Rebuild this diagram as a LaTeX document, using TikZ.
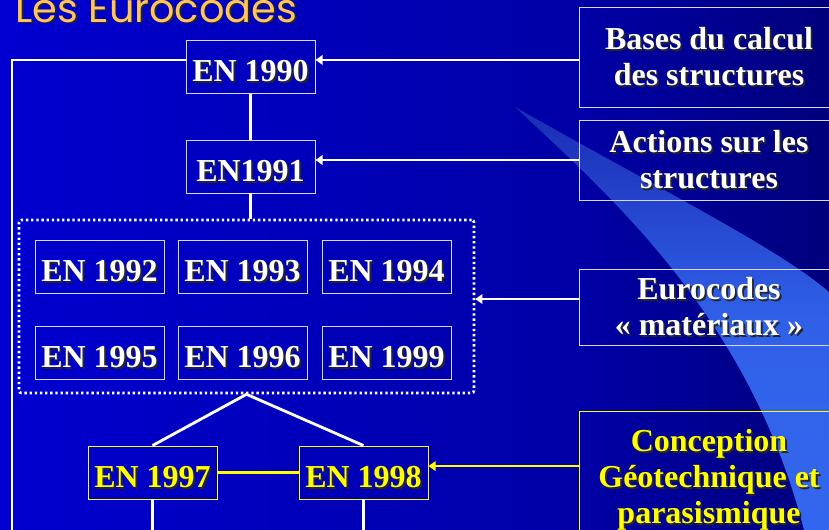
\documentclass[tikz,border=0pt]{standalone}
\usepackage{fontspec}
\setmainfont{Liberation Serif}
\newfontfamily\titlefont{Poppins}
\usepackage{tikz}
\usetikzlibrary{arrows.meta,positioning,calc,fit}
\definecolor{bgleft}{HTML}{0000EE}
\definecolor{bgmid}{HTML}{0000A6}
\definecolor{bgright}{HTML}{000036}
\definecolor{swlight}{HTML}{3366EE}
\definecolor{swdark}{HTML}{1A2CB4}
\definecolor{rim}{HTML}{D8D8FF}
\definecolor{enyellow}{HTML}{FFFF00}
\definecolor{titleorange}{HTML}{FFC55C}
\pgfdeclarehorizontalshading{slidebg}{100bp}{color(0bp)=(bgleft); color(60bp)=(bgmid); color(100bp)=(bgright)}
\tikzset{
    enfont/.style={font=\fontsize{27.3}{30.7}\selectfont\bfseries},
    boxbase/.style={draw=rim,line width=0.8pt,minimum width=3.87cm,minimum height=1.59cm,
      inner sep=0pt,enfont,text=white,align=center},
    enbox/.style={boxbase,text height=25pt,text depth=0pt},
    ybox/.style={enbox,draw=enyellow,text=enyellow},
    sidebox/.style={boxbase,minimum width=7.8cm},
    grpbox/.style={draw=white,line width=2.2pt,dash pattern=on 2pt off 2.4pt,
      rounded corners=2pt,inner sep=0pt},
    link/.style={draw=white,line width=2.4pt},
    ylink/.style={link,draw=enyellow},
    feed/.style={link,-{Triangle[length=6pt,width=8pt]}},
    titletxt/.style={anchor=base west,inner sep=0pt,text=titleorange,
      font=\titlefont\fontsize{34}{38}\selectfont}
}
% text with a dark drop shadow
\newcommand\shadowed[4]{%
  \node[#1,draw=none,text=black!85,xshift=1.6pt,yshift=-1.6pt] at (#3) {#4};
  \node[#1] (#2) at (#3) {#4};}

\begin{document}
\begin{tikzpicture}[x=0.03cm,y=-0.03cm]
  \useasboundingbox (0,0) rectangle (829,530);
  \clip (0,0) rectangle (829,530);
  \shade[shading=slidebg] (0,0) rectangle (829,530);
  % light swoosh
  \shade[top color=swdark,bottom color=swlight,middle color=swlight!90!swdark]
    (515,107) .. controls (615,200) and (750,320) .. (804,530) -- (829,530) -- (829,292)
    .. controls (780,250) and (680,200) .. (515,107) -- cycle;

  \shadowed{titletxt}{title}{15,22}{Les Eurocodes}

  % standards
  \shadowed{enbox}{e90}{250.5,67}{EN 1990}
  \shadowed{enbox}{e91}{250.5,166.5}{EN1991}
  \shadowed{enbox}{e92}{99.5,266.5}{EN 1992}
  \shadowed{enbox}{e93}{242.5,266.5}{EN 1993}
  \shadowed{enbox}{e94}{386.5,266.5}{EN 1994}
  \shadowed{enbox}{e95}{99.5,352.5}{EN 1995}
  \shadowed{enbox}{e96}{242.5,352.5}{EN 1996}
  \shadowed{enbox}{e99}{386.5,352.5}{EN 1999}
  \shadowed{ybox}{e97}{152.5,472.5}{EN 1997}
  \shadowed{ybox}{e98}{363.5,472.5}{EN 1998}
  \coordinate (gtl) at (19,220);
  \coordinate (gbr) at (474,393);
  \node[grpbox,fit=(gtl)(gbr)] (grp) {};

  % themes
  \shadowed{sidebox,minimum height=3cm}{bases}{709,57}{Bases du calcul\\des structures}
  \shadowed{sidebox,minimum height=2.4cm}{actions}{709,160}{Actions sur les\\structures}
  \shadowed{sidebox,minimum height=2.28cm}{mat}{709,307}{Eurocodes\\\guillemotleft{} matériaux \guillemotright}
  \shadowed{sidebox,draw=enyellow,text=enyellow,minimum height=4.1cm}{geo}{709,480}{Conception\\Géotechnique et\\parasismique}

  \coordinate (lbot) at (12,540);
  \draw[link] ([yshift=6pt]e90.west) -| (lbot);
  \draw[link] (e90) -- (e91);
  \draw[link] (e91.south) -- (e91.south |- grp.north);
  \draw[link] (grp.south) -- (e97.north);
  \draw[link] (grp.south) -- (e98.north);
  \draw[ylink] (e97) -- (e98);
  \draw[link] (e97.south) -- (e97.south |- lbot);
  \draw[link] (e98.south) -- (e98.south |- lbot);

  \draw[feed] ([yshift=-2.5pt]bases.west) -- ([yshift=-2.5pt]bases.west -| e90.east);
  \draw[feed] (actions.west) -- (actions.west -| e91.east);
  \draw[feed] ([yshift=6.8pt]mat.west) -- ([yshift=6.8pt]mat.west -| grp.east);
  \draw[feed,draw=enyellow,fill=enyellow] ([yshift=5.5pt]e98.east -| geo.west) -- ([yshift=5.5pt]e98.east);
\end{tikzpicture}
\end{document}
